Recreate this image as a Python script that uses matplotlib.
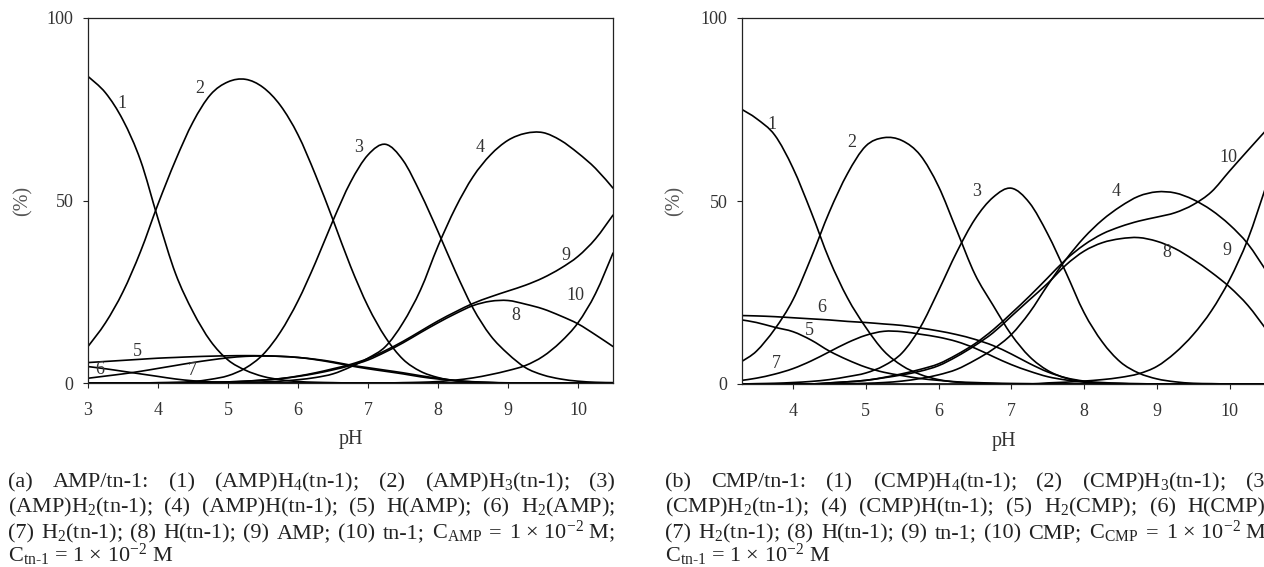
import matplotlib
matplotlib.use("Agg")
import matplotlib.pyplot as plt
from matplotlib.path import Path
from matplotlib.patches import PathPatch
import numpy as np

plt.rcParams['font.family'] = ['Liberation Serif', 'DejaVu Serif']
plt.rcParams['mathtext.fontset'] = 'custom'
plt.rcParams['mathtext.rm'] = 'Liberation Serif'
plt.rcParams['mathtext.it'] = 'Liberation Serif:italic'
plt.rcParams['mathtext.bf'] = 'Liberation Serif:bold'
plt.rcParams['mathtext.default'] = 'regular'

## données : (a) AMP/tn-1, (b) CMP/tn-1

ph_a = [3.0, 3.25, 3.5, 3.75, 4.0, 4.25, 4.5, 4.75, 5.0, 5.25, 5.5, 5.75, 6.0, 6.25, 6.5, 6.75,
        7.0, 7.25, 7.5, 7.75, 8.0, 8.25, 8.5, 8.75, 9.0, 9.25, 9.5, 9.75, 10.0, 10.25, 10.5]

a1 = [84, 79.5, 72, 61, 45, 30, 19.5, 11.5, 6.3, 3.5, 1.8, 0.9, 0.4, 0.2, 0.1,
      0, 0, 0, 0, 0, 0, 0, 0, 0, 0, 0, 0, 0, 0, 0, 0]
a2 = [10, 16.5, 25, 36, 49, 61, 71.5, 79, 82.5, 83.2, 81, 76, 68, 57, 44.7, 32,
      21, 12.5, 6.5, 3.2, 1.5, 0.6, 0.2, 0.1, 0, 0, 0, 0, 0, 0, 0]
a3 = [0, 0, 0, 0, 0.1, 0.2, 0.4, 1.0, 2.0, 4.1, 7.8, 14, 22.5, 33, 44.5, 55,
      62.5, 65.4, 61, 52, 41.5, 30.5, 20.5, 13, 8, 4.2, 2.2, 1.1, 0.5, 0.2, 0.1]
a4 = [0, 0, 0, 0, 0, 0, 0, 0, 0.1, 0.2, 0.3, 0.5, 0.9, 1.5, 2.5, 4.4,
      6.8, 10, 16.5, 25.5, 37.5, 48, 56.5, 62.5, 66.5, 68.4, 68.6, 66.5, 63, 58.8, 53.4]
a5 = [5.6, 5.9, 6.2, 6.5, 6.8, 7.0, 7.2, 7.35, 7.45, 7.5, 7.45, 7.3, 7.0, 6.5, 5.8, 4.9,
      4.2, 3.5, 2.8, 2.0, 1.3, 0.7, 0.35, 0.15, 0.05, 0, 0, 0, 0, 0, 0]
a6 = [4.5, 3.9, 3.2, 2.5, 1.8, 1.1, 0.6, 0.3, 0.15, 0.07, 0, 0, 0, 0, 0, 0,
      0, 0, 0, 0, 0, 0, 0, 0, 0, 0, 0, 0, 0, 0, 0]
a7 = [1.3, 1.9, 2.5, 3.2, 4.0, 4.8, 5.6, 6.3, 6.9, 7.3, 7.4, 7.3, 7.0, 6.4, 5.6, 4.7,
      3.9, 3.2, 2.5, 1.7, 1.1, 0.6, 0.3, 0.1, 0, 0, 0, 0, 0, 0, 0]
a8 = [0, 0, 0, 0, 0, 0, 0.1, 0.2, 0.3, 0.5, 0.8, 1.2, 1.8, 2.6, 3.6, 4.8,
      6.3, 8.5, 11.0, 13.8, 16.5, 19, 21.2, 22.4, 22.6, 21.6, 20.3, 18.4, 16.2, 13.2, 10]
a9 = [0, 0, 0, 0, 0, 0, 0.1, 0.2, 0.3, 0.5, 0.8, 1.2, 1.9, 2.8, 3.9, 5.1,
      6.7, 8.9, 11.4, 14.2, 17.0, 19.5, 21.8, 23.6, 25.2, 26.8, 28.8, 31.4, 34.7, 39.5, 46]
a10 = [0, 0, 0, 0, 0, 0, 0, 0, 0, 0, 0, 0, 0, 0, 0, 0,
       0, 0, 0.1, 0.2, 0.4, 0.8, 1.4, 2.3, 3.4, 4.8, 7.3, 11.2, 16.5, 24.5, 35.6]

ph_b = [3.3, 3.5, 3.75, 4.0, 4.25, 4.5, 4.75, 5.0, 5.25, 5.5, 5.75, 6.0, 6.25, 6.5, 6.75,
        7.0, 7.25, 7.5, 7.75, 8.0, 8.25, 8.5, 8.75, 9.0, 9.25, 9.5, 9.75, 10.0, 10.25, 10.5]

b1 = [75, 72.5, 68, 59, 47, 34, 23.5, 15.5, 9, 5, 2.6, 1.2, 0.5, 0.2, 0.1,
      0, 0, 0, 0, 0, 0, 0, 0, 0, 0, 0, 0, 0, 0, 0]
b2 = [6.2, 9, 15, 23, 34.5, 47, 57.5, 65, 67.3, 66.5, 62.5, 54, 42, 30, 21.5,
      13.5, 7.5, 3.7, 1.6, 0.6, 0.2, 0.1, 0, 0, 0, 0, 0, 0, 0, 0]
b3 = [0, 0.1, 0.2, 0.4, 0.7, 1.2, 2, 3, 5, 8.5, 15.5, 25.5, 36, 45, 51,
      53.5, 49.5, 41, 30.5, 19.5, 11.5, 6, 3, 1.4, 0.6, 0.2, 0.1, 0, 0, 0]
b4 = [0, 0, 0, 0, 0, 0, 0.1, 0.2, 0.4, 0.8, 1.5, 2.5, 4, 6.5, 9.5,
      13.5, 19.5, 27, 34, 40, 44.8, 48.5, 51.3, 52.5, 52.2, 50.4, 47.5, 43.5, 38.3, 31]
b5 = [17.5, 16.8, 15.5, 14.3, 12, 9, 6.6, 4.6, 3.2, 2.3, 1.5, 1.0, 0.6, 0.4, 0.25,
      0.15, 0.1, 0, 0, 0, 0, 0, 0, 0, 0, 0, 0, 0, 0, 0]
b6 = [18.7, 18.6, 18.4, 18.1, 17.8, 17.5, 17.1, 16.8, 16.4, 16, 15.3, 14.5, 13.5, 12.2, 10.5,
      8.2, 5.6, 3.3, 1.7, 0.8, 0.4, 0.2, 0.1, 0, 0, 0, 0, 0, 0, 0]
b7 = [1, 1.6, 2.7, 4.2, 6.3, 8.8, 11.3, 13.3, 14.4, 14.3, 13.6, 12.8, 11.6, 9.8, 7.5,
      5.3, 3.5, 2, 1.1, 0.5, 0.2, 0.1, 0, 0, 0, 0, 0, 0, 0, 0]
b8 = [0, 0, 0, 0, 0, 0.3, 0.6, 1, 1.7, 2.5, 3.5, 5, 7.5, 10.5, 14,
      18.5, 23, 27.5, 32.5, 36.3, 38.6, 39.7, 40, 39, 37, 34, 30.5, 26.5, 21.5, 15]
b9 = [0, 0, 0, 0, 0, 0, 0, 0, 0, 0, 0, 0, 0, 0, 0,
      0, 0, 0.3, 0.5, 0.8, 1.2, 1.8, 2.8, 4.8, 8.5, 13.5, 20, 28.5, 39.5, 54]
b10 = [0, 0, 0, 0, 0, 0.3, 0.6, 1, 1.8, 2.8, 4, 5.5, 8, 11, 14.8,
       19.3, 24, 29, 34, 38, 41, 43, 44.5, 45.6, 46.8, 49, 52.5, 58.2, 63.8, 69.3]

# étiquettes des courbes (numéro, pH, %)
lab_a = [("1", 3.49, 76.7), ("2", 4.59, 80.8), ("3", 6.86, 64.4), ("4", 8.6, 64.4),
         ("5", 3.71, 8.5), ("6", 3.17, 3.6), ("7", 4.49, 3.3), ("8", 9.11, 18.4),
         ("9", 9.83, 35), ("10", 9.97, 24)]
lab_b = [("1", 3.71, 71), ("2", 4.81, 66), ("3", 6.52, 52.5), ("4", 8.44, 52.7),
         ("5", 4.22, 14.5), ("6", 4.40, 21), ("7", 3.77, 5.7), ("8", 9.14, 36),
         ("9", 9.96, 36.4), ("10", 9.99, 62)]

TN = r"$_{\text{tn-1}}$"
cap_a = [["(a)", "AMP/tn-1:", "(1)", "(AMP)H$_4$(tn-1);", "(2)", "(AMP)H$_3$(tn-1);", "(3)"],
         ["(AMP)H$_2$(tn-1);", "(4)", "(AMP)H(tn-1);", "(5)", "H(AMP);", "(6)", "H$_2$(AMP);"],
         ["(7)", "H$_2$(tn-1);", "(8)", "H(tn-1);", "(9)", "AMP;", "(10)", "tn-1;",
          "C$_{AMP}$", "=", "1 × 10$^{-2}$ M;"],
         ["C" + TN + " = 1 × 10$^{-2}$ M"]]
cap_b = [["(b)", "CMP/tn-1:", "(1)", "(CMP)H$_4$(tn-1);", "(2)", "(CMP)H$_3$(tn-1);", "(3)"],
         ["(CMP)H$_2$(tn-1);", "(4)", "(CMP)H(tn-1);", "(5)", "H$_2$(CMP);", "(6)", "H(CMP);"],
         ["(7)", "H$_2$(tn-1);", "(8)", "H(tn-1);", "(9)", "tn-1;", "(10)", "CMP;",
          "C$_{CMP}$", "=", "1 × 10$^{-2}$ M;"],
         ["C" + TN + " = 1 × 10$^{-2}$ M"]]

W, H = 1264, 567
fig = plt.figure(figsize=(W / 100, H / 100), dpi=100)


def rect(l, t, r, b):
    return [l / W, 1 - b / H, (r - l) / W, (b - t) / H]


def smooth_line(ax, x, y):
    # tracé lissé (comme une courbe lissée de tableur) passant par les points lus
    p = np.column_stack([x, y]).astype(float)
    ext = np.vstack([p[0], p, p[-1]])
    verts = [p[0]]
    codes = [Path.MOVETO]
    for i in range(len(p) - 1):
        c1 = ext[i + 1] + (ext[i + 2] - ext[i]) / 6
        c2 = ext[i + 2] - (ext[i + 3] - ext[i + 1]) / 6
        verts += [c1, c2, ext[i + 2]]
        codes += [Path.CURVE4] * 3
    ax.add_patch(PathPatch(Path(verts, codes), fill=False, edgecolor='black',
                           lw=1.2, capstyle='round', joinstyle='round'))


def panel(ax, ph, curves, labels, xlim, xticks):
    for y in curves:
        smooth_line(ax, ph, y)
    for txt, x, y in labels:
        ax.text(x, y, txt, fontsize=13, color='#333333', ha='center', va='center')
    ax.set_xlim(*xlim)
    ax.set_ylim(0, 100)
    ax.set_xticks(xticks)
    ax.set_yticks([0, 50, 100])
    for s in ax.spines.values():
        s.set_linewidth(0.9)
        s.set_color('#222222')
    ax.tick_params(direction='out', length=3.5, width=0.8, color='#222222',
                   labelsize=13, labelcolor='#333333')
    ax.tick_params(axis='x', pad=10)
    ax.tick_params(axis='y', pad=7)
    ax.set_xlabel("pH", fontsize=14.5, color='#333333', va='center')
    ax.set_ylabel("(%)", fontsize=14.5, color='#555555', va='center')


ax_a = fig.add_axes(rect(88, 18, 613, 383))
panel(ax_a, ph_a, [a1, a2, a3, a4, a5, a6, a7, a8, a9, a10], lab_a, (3, 10.5), range(3, 11))
ax_a.xaxis.set_label_coords(0.5, -0.156)
ax_a.yaxis.set_label_coords(-0.124, 0.5)

ax_b = fig.add_axes(rect(742, 18, 1266, 384))
panel(ax_b, ph_b, [b1, b2, b3, b4, b5, b6, b7, b8, b9, b10], lab_b, (3.3, 10.5), range(4, 11))
ax_b.xaxis.set_label_coords(0.5, -0.156)
ax_b.yaxis.set_label_coords(-0.128, 0.5)


# légendes justifiées
renderer = fig.canvas.get_renderer()


def caption(lines, x0, width, baselines):
    for i, (words, yb) in enumerate(zip(lines, baselines)):
        texts = [fig.text(0, 1 - yb / H, w, fontsize=16, color='#222222', va='baseline')
                 for w in words]
        widths = [t.get_window_extent(renderer).width for t in texts]
        last = i == len(lines) - 1
        if last or len(words) == 1:
            gap = 4.0
        else:
            gap = (width - sum(widths)) / (len(words) - 1)
        x = x0
        for t, w in zip(texts, widths):
            t.set_x(x / W)
            x += w + gap


caption(cap_a, 8, 607, [487, 512.5, 538, 562])
caption(cap_b, 665, 607, [487, 512.5, 538, 562])

fig.savefig("out.png", dpi=100)
